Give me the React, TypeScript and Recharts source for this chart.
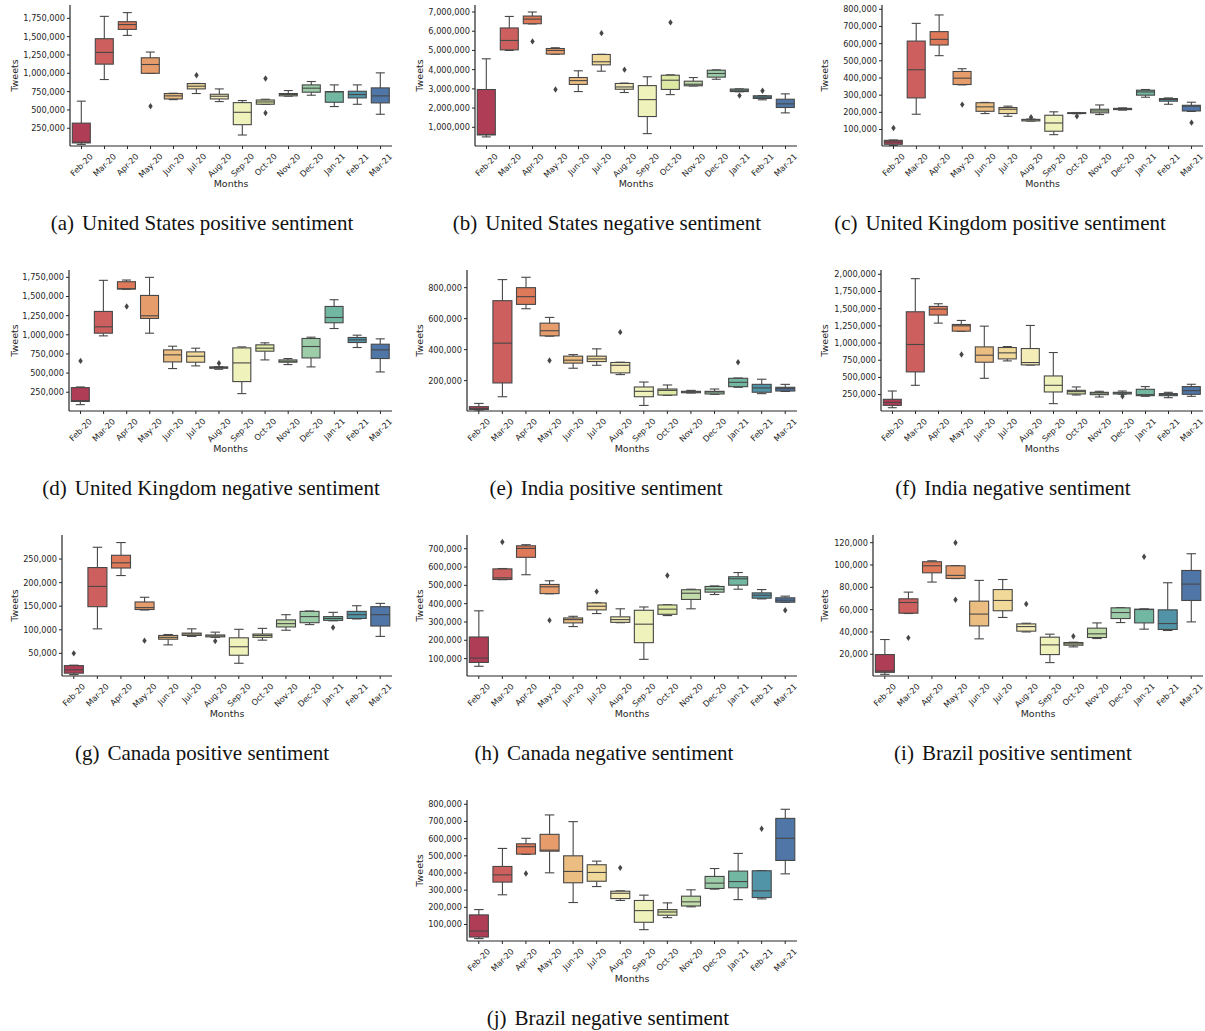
import { ComposedChart, Bar, Line, XAxis, YAxis } from 'recharts';

type Box = [number, number, number, number, number]; // low whisker, q1, median, q3, high whisker

const months = ['Feb-20', 'Mar-20', 'Apr-20', 'May-20', 'Jun-20', 'Jul-20', 'Aug-20', 'Sep-20', 'Oct-20', 'Nov-20', 'Dec-20', 'Jan-21', 'Feb-21', 'Mar-21'];

// seaborn "Spectral" with 14 steps, desaturated to 0.75 the way boxplot does it
const palette = ['#b03d56', '#cd605e', '#de7959', '#e69c6b', '#ebbd81', '#f0d999', '#f5edb8', '#eff3bb', '#dee9a4', '#c0dca9', '#9ccca8', '#72b7a1', '#5193a7', '#4f76a6'];

const ticks250k = [250000, 500000, 750000, 1000000, 1250000, 1500000, 1750000];
const ticks250kTo2m = [250000, 500000, 750000, 1000000, 1250000, 1500000, 1750000, 2000000];
const ticks1m = [1000000, 2000000, 3000000, 4000000, 5000000, 6000000, 7000000];
const ticks100k = [100000, 200000, 300000, 400000, 500000, 600000, 700000, 800000];
const ticks100kTo700k = [100000, 200000, 300000, 400000, 500000, 600000, 700000];
const ticks200k = [200000, 400000, 600000, 800000];
const ticks50k = [50000, 100000, 150000, 200000, 250000];
const ticks20k = [20000, 40000, 60000, 80000, 100000, 120000];

const usPositive: Box[] = [
  [30000, 50000, 60000, 320000, 620000],
  [915000, 1125000, 1285000, 1472000, 1777000],
  [1517000, 1599000, 1665000, 1704000, 1828000],
  [998000, 1000000, 1120000, 1212000, 1290000],
  [641000, 650000, 692000, 724000, 728000],
  [724000, 787000, 824000, 860000, 862000],
  [614000, 650000, 687000, 714000, 787000],
  [158000, 299000, 468000, 600000, 628000],
  [575000, 578000, 609000, 636000, 646000],
  [688000, 692000, 710000, 724000, 765000],
  [701000, 742000, 797000, 842000, 888000],
  [546000, 605000, 746000, 751000, 842000],
  [577000, 664000, 710000, 755000, 842000],
  [441000, 596000, 692000, 801000, 1006000],
];
const usPositiveOutliers: number[][] = [[], [], [], [550000], [], [974000], [], [], [929000, 459000], [], [], [], [], []];

const usNegative: Box[] = [
  [500000, 600000, 630000, 2965000, 4565000],
  [5000000, 5030000, 5520000, 6170000, 6770000],
  [6380000, 6390000, 6630000, 6790000, 7000000],
  [4800000, 4810000, 5000000, 5100000, 5140000],
  [2860000, 3230000, 3430000, 3590000, 3940000],
  [3920000, 4250000, 4410000, 4790000, 4800000],
  [2810000, 2980000, 3100000, 3280000, 3300000],
  [670000, 1560000, 2440000, 3170000, 3630000],
  [2700000, 2970000, 3450000, 3710000, 3730000],
  [3150000, 3160000, 3240000, 3400000, 3590000],
  [3500000, 3610000, 3800000, 3970000, 3990000],
  [2850000, 2860000, 2930000, 2990000, 3000000],
  [2430000, 2500000, 2570000, 2640000, 2650000],
  [1750000, 2030000, 2220000, 2460000, 2740000],
];
const usNegativeOutliers: number[][] = [[], [], [5470000], [2970000], [], [5900000], [4000000], [], [6460000], [], [], [2650000], [2900000], []];

const ukPositive: Box[] = [
  [6000, 14000, 27000, 37000, 39000],
  [189000, 284000, 448000, 615000, 718000],
  [530000, 592000, 625000, 670000, 767000],
  [360000, 362000, 399000, 438000, 454000],
  [193000, 206000, 232000, 256000, 258000],
  [177000, 193000, 218000, 228000, 236000],
  [149000, 150000, 156000, 159000, 161000],
  [70000, 90000, 138000, 183000, 203000],
  [192000, 193000, 195000, 198000, 199000],
  [187000, 197000, 208000, 218000, 243000],
  [213000, 216000, 220000, 223000, 226000],
  [288000, 300000, 319000, 329000, 333000],
  [247000, 265000, 275000, 280000, 284000],
  [205000, 208000, 236000, 241000, 259000],
];
const ukPositiveOutliers: number[][] = [[109000], [], [], [245000], [], [], [171000], [], [177000], [], [], [], [], [140000]];

const ukNegative: Box[] = [
  [88000, 130000, 140000, 310000, 319000],
  [986000, 1021000, 1104000, 1305000, 1711000],
  [1595000, 1597000, 1602000, 1693000, 1715000],
  [1021000, 1213000, 1248000, 1514000, 1750000],
  [559000, 646000, 738000, 803000, 851000],
  [594000, 642000, 720000, 777000, 825000],
  [550000, 563000, 572000, 581000, 585000],
  [232000, 389000, 633000, 829000, 842000],
  [672000, 786000, 825000, 869000, 895000],
  [611000, 642000, 655000, 672000, 690000],
  [581000, 698000, 847000, 952000, 969000],
  [1082000, 1157000, 1226000, 1370000, 1458000],
  [834000, 899000, 934000, 965000, 995000],
  [515000, 690000, 803000, 877000, 947000],
];
const ukNegativeOutliers: number[][] = [[659000], [], [1370000], [], [], [], [629000], [], [], [], [], [], [], []];

const indiaPositive: Box[] = [
  [4000, 14000, 19000, 32000, 53000],
  [96000, 185000, 442000, 716000, 852000],
  [664000, 692000, 742000, 800000, 867000],
  [487000, 489000, 522000, 571000, 608000],
  [280000, 313000, 332000, 358000, 368000],
  [299000, 323000, 340000, 358000, 405000],
  [239000, 250000, 299000, 317000, 319000],
  [40000, 96000, 131000, 159000, 191000],
  [105000, 107000, 137000, 146000, 172000],
  [120000, 122000, 127000, 131000, 137000],
  [112000, 114000, 127000, 131000, 146000],
  [157000, 161000, 189000, 215000, 217000],
  [116000, 125000, 153000, 176000, 209000],
  [130000, 133000, 148000, 157000, 176000],
];
const indiaPositiveOutliers: number[][] = [[], [], [], [330000], [], [], [513000], [], [], [], [], [319000], [], []];

const indiaNegative: Box[] = [
  [59000, 93000, 137000, 181000, 302000],
  [385000, 580000, 979000, 1455000, 1937000],
  [1290000, 1407000, 1494000, 1533000, 1572000],
  [1170000, 1173000, 1251000, 1270000, 1329000],
  [487000, 721000, 823000, 944000, 1246000],
  [740000, 769000, 857000, 935000, 949000],
  [680000, 682000, 716000, 920000, 1256000],
  [118000, 288000, 385000, 521000, 862000],
  [244000, 259000, 293000, 312000, 361000],
  [215000, 249000, 273000, 283000, 298000],
  [255000, 259000, 273000, 283000, 302000],
  [225000, 234000, 249000, 327000, 366000],
  [205000, 234000, 254000, 264000, 283000],
  [225000, 254000, 307000, 366000, 400000],
];
const indiaNegativeOutliers: number[][] = [[], [], [], [833000], [], [], [], [], [], [], [225000], [], [], []];

const canadaPositive: Box[] = [
  [5000, 8000, 15000, 24000, 25000],
  [102000, 149000, 192000, 232000, 275000],
  [215000, 231000, 242000, 258000, 285000],
  [142000, 143000, 147000, 159000, 169000],
  [68000, 80000, 84000, 88000, 90000],
  [86000, 88000, 91000, 93000, 102000],
  [84000, 85000, 87000, 89000, 95000],
  [29000, 46000, 64000, 83000, 101000],
  [78000, 84000, 88000, 91000, 103000],
  [99000, 106000, 113000, 121000, 132000],
  [111000, 115000, 128000, 139000, 140000],
  [119000, 120000, 124000, 128000, 137000],
  [123000, 124000, 132000, 139000, 151000],
  [86000, 108000, 132000, 149000, 156000],
];
const canadaPositiveOutliers: number[][] = [[50000], [], [], [77000], [], [], [76000], [], [], [], [], [105000], [], []];

const canadaNegative: Box[] = [
  [58000, 79000, 103000, 218000, 361000],
  [531000, 532000, 541000, 590000, 592000],
  [558000, 653000, 702000, 716000, 722000],
  [454000, 455000, 492000, 505000, 525000],
  [275000, 295000, 313000, 322000, 331000],
  [346000, 366000, 386000, 404000, 405000],
  [296000, 298000, 313000, 328000, 372000],
  [96000, 187000, 288000, 364000, 382000],
  [335000, 342000, 370000, 393000, 394000],
  [372000, 423000, 457000, 476000, 479000],
  [450000, 463000, 479000, 494000, 497000],
  [479000, 501000, 536000, 547000, 570000],
  [426000, 430000, 446000, 459000, 477000],
  [407000, 408000, 419000, 432000, 441000],
];
const canadaNegativeOutliers: number[][] = [[], [737000], [], [309000], [], [466000], [], [], [554000], [], [], [], [], [364000]];

const brazilPositive: Box[] = [
  [2000, 3800, 5000, 19700, 33200],
  [56500, 56800, 66400, 69700, 75700],
  [84700, 93000, 99300, 102900, 103800],
  [87800, 88000, 90700, 99300, 99500],
  [33800, 45400, 56000, 67600, 86200],
  [53000, 59000, 68200, 78000, 87000],
  [40000, 40700, 44800, 47200, 47800],
  [12500, 19700, 28400, 35300, 38000],
  [26600, 28100, 29300, 30500, 30800],
  [34100, 35000, 38300, 43400, 48100],
  [48400, 52000, 57400, 61600, 61800],
  [42500, 48100, 60100, 60400, 60700],
  [41300, 42200, 47500, 59800, 84100],
  [49000, 68200, 82900, 95100, 110100],
];
const brazilPositiveOutliers: number[][] = [[], [34700], [], [120000, 68800], [], [], [65000], [], [36200], [], [], [107400], [], []];

const brazilNegative: Box[] = [
  [18000, 27000, 62000, 156000, 187000],
  [273000, 347000, 389000, 438000, 543000],
  [508000, 510000, 553000, 570000, 602000],
  [401000, 527000, 533000, 625000, 738000],
  [228000, 343000, 409000, 500000, 699000],
  [321000, 352000, 403000, 448000, 469000],
  [240000, 251000, 282000, 294000, 296000],
  [70000, 113000, 181000, 240000, 271000],
  [140000, 154000, 173000, 187000, 226000],
  [203000, 208000, 232000, 265000, 302000],
  [306000, 310000, 341000, 380000, 426000],
  [245000, 314000, 350000, 411000, 514000],
  [249000, 257000, 296000, 413000, 414000],
  [395000, 473000, 602000, 718000, 771000],
];
const brazilNegativeOutliers: number[][] = [[], [], [397000], [], [], [], [430000], [], [], [], [], [], [658000], []];

const EDGE = '#474747';
const INK = '#262626';
const TICK_FS = 8.2;

type PanelSpec = {
  tag: string;
  title: string;
  boxes: Box[];
  outliers: number[][];
  domain: [number, number];
  ticks: number[];
  x0: number;
  y0: number;
  axisX: number;
  right: number;
  capX: number;
};

const panels: PanelSpec[] = [
  { tag: '(a)', title: 'United States positive sentiment', boxes: usPositive, outliers: usPositiveOutliers, domain: [8000, 1932000], ticks: ticks250k, x0: 0, y0: 0, axisX: 70, right: 392, capX: 202 },
  { tag: '(b)', title: 'United States negative sentiment', boxes: usNegative, outliers: usNegativeOutliers, domain: [26000, 7365000], ticks: ticks1m, x0: 405, y0: 0, axisX: 475, right: 797, capX: 607 },
  { tag: '(c)', title: 'United Kingdom positive sentiment', boxes: ukPositive, outliers: ukPositiveOutliers, domain: [4000, 825000], ticks: ticks100k, x0: 810, y0: 0, axisX: 882, right: 1203, capX: 1000 },
  { tag: '(d)', title: 'United Kingdom negative sentiment', boxes: ukNegative, outliers: ukNegativeOutliers, domain: [5000, 1846000], ticks: ticks250k, x0: 0, y0: 265, axisX: 69, right: 392, capX: 211 },
  { tag: '(e)', title: 'India positive sentiment', boxes: indiaPositive, outliers: indiaPositiveOutliers, domain: [4000, 914000], ticks: ticks200k, x0: 405, y0: 265, axisX: 467, right: 797, capX: 606 },
  { tag: '(f)', title: 'India negative sentiment', boxes: indiaNegative, outliers: indiaNegativeOutliers, domain: [11000, 2063000], ticks: ticks250kTo2m, x0: 810, y0: 265, axisX: 881, right: 1203, capX: 1013 },
  { tag: '(g)', title: 'Canada positive sentiment', boxes: canadaPositive, outliers: canadaPositiveOutliers, domain: [2000, 301000], ticks: ticks50k, x0: 0, y0: 530, axisX: 62, right: 392, capX: 202 },
  { tag: '(h)', title: 'Canada negative sentiment', boxes: canadaNegative, outliers: canadaNegativeOutliers, domain: [5000, 775000], ticks: ticks100kTo700k, x0: 405, y0: 530, axisX: 467, right: 797, capX: 604 },
  { tag: '(i)', title: 'Brazil positive sentiment', boxes: brazilPositive, outliers: brazilPositiveOutliers, domain: [500, 126900], ticks: ticks20k, x0: 810, y0: 530, axisX: 873, right: 1203, capX: 1013 },
  { tag: '(j)', title: 'Brazil negative sentiment', boxes: brazilNegative, outliers: brazilNegativeOutliers, domain: [4000, 825000], ticks: ticks100k, x0: 405, y0: 795, axisX: 467, right: 797, capX: 608 },
];

// rough DejaVu Sans advance widths (em) for the month labels
const charW: Record<string, number> = {
  F: 0.575, e: 0.615, b: 0.635, '-': 0.361, M: 0.863, a: 0.613, r: 0.411, A: 0.684, p: 0.635, y: 0.592,
  J: 0.295, u: 0.634, n: 0.634, l: 0.278, g: 0.635, S: 0.635, O: 0.787, c: 0.55, t: 0.392, N: 0.748,
  o: 0.612, v: 0.592, D: 0.77,
};
const labelWidth = (s: string, fs: number) => [...s].reduce((w, ch) => w + (charW[ch] ?? 0.636), 0) * fs;

function MonthTick(props: any) {
  const { x, y, payload } = props;
  const w = labelWidth(String(payload.value), TICK_FS);
  const cy = y + ((w + TICK_FS * 0.95) * Math.SQRT1_2) / 2;
  return (
    <text x={x} y={cy} textAnchor="middle" dominantBaseline="central" fontSize={TICK_FS} fill={INK}
      fontFamily="DejaVu Sans" transform={`rotate(-45 ${x} ${cy})`}>
      {payload.value}
    </text>
  );
}

function BoxShape(props: any) {
  const { x, y, width, height, index, rows } = props;
  const row = rows[index];
  if (!row || !(height > 0)) return <g />;
  const [low, q1, med, q3, high] = row.box as Box;
  const py = (v: number) => y + ((high - v) / (high - low)) * height;
  const cx = x + width / 2;
  const cap = width / 4;
  const sw = 1.1;
  return (
    <g>
      <line x1={cx} x2={cx} y1={py(high)} y2={py(q3)} stroke={EDGE} strokeWidth={sw} />
      <line x1={cx} x2={cx} y1={py(q1)} y2={py(low)} stroke={EDGE} strokeWidth={sw} />
      <line x1={cx - cap} x2={cx + cap} y1={py(high)} y2={py(high)} stroke={EDGE} strokeWidth={sw} />
      <line x1={cx - cap} x2={cx + cap} y1={py(low)} y2={py(low)} stroke={EDGE} strokeWidth={sw} />
      <rect x={x} y={py(q3)} width={width} height={Math.max(py(q1) - py(q3), 0.6)} fill={row.color} stroke={EDGE} strokeWidth={sw} />
      <line x1={x} x2={x + width} y1={py(med)} y2={py(med)} stroke={EDGE} strokeWidth={sw} />
    </g>
  );
}

const renderFlier = (dp: any) => {
  const { cx, cy, index } = dp;
  if (typeof cy !== 'number' || Number.isNaN(cy)) return <g key={`n${index}`} />;
  return <path key={`f${index}`} d={`M${cx},${cy - 3.2}L${cx + 2.2},${cy}L${cx},${cy + 3.2}L${cx - 2.2},${cy}Z`} fill={EDGE} />;
};

function Panel({ p }: { p: PanelSpec }) {
  const rows = months.map((m, i) => ({
    month: m,
    range: [p.boxes[i][0], p.boxes[i][4]],
    box: p.boxes[i],
    color: palette[i],
    out1: p.outliers[i][0] ?? null,
    out2: p.outliers[i][1] ?? null,
  }));
  const w = 400;
  return (
    <div style={{ position: 'absolute', left: p.x0, top: p.y0 }}>
      <ComposedChart width={w} height={200} data={rows} barCategoryGap="10%"
        margin={{ top: 5, right: w - (p.right - p.x0), bottom: 0, left: 0 }}>
        <XAxis dataKey="month" interval={0} height={54} tickSize={3} tickMargin={3}
          axisLine={{ stroke: INK, strokeWidth: 1.2 }} tickLine={{ stroke: INK }}
          tick={(tp: any) => <MonthTick {...tp} />} />
        <YAxis type="number" domain={p.domain} allowDataOverflow ticks={p.ticks} interval={0}
          width={p.axisX - p.x0} tickSize={3} tickMargin={2}
          tickFormatter={(v: number) => v.toLocaleString('en-US')}
          tick={{ fontSize: TICK_FS, fill: INK, fontFamily: 'DejaVu Sans' }}
          axisLine={{ stroke: INK, strokeWidth: 1.2 }} tickLine={{ stroke: INK }} />
        <Bar dataKey="range" isAnimationActive={false} shape={(sp: any) => <BoxShape {...sp} rows={rows} />} />
        <Line dataKey="out1" stroke="none" dot={renderFlier} activeDot={false} isAnimationActive={false} />
        <Line dataKey="out2" stroke="none" dot={renderFlier} activeDot={false} isAnimationActive={false} />
      </ComposedChart>
    </div>
  );
}

export default function App() {
  return (
    <div style={{ position: 'absolute', left: 0, top: 0, width: 1205, height: 1031, background: '#fff' }}>
      {panels.map((p) => (
        <Panel key={p.tag} p={p} />
      ))}
      <svg width={1205} height={1031} style={{ position: 'absolute', left: 0, top: 0, pointerEvents: 'none' }}>
        {panels.map((p) => {
          const ty = p.y0 + 75.5;
          const tx = p.x0 + 17.5;
          return (
            <g key={p.tag}>
              <text x={tx} y={ty} textAnchor="middle" fontSize={9.5} fill={INK} fontFamily="DejaVu Sans"
                transform={`rotate(-90 ${tx} ${ty})`}>Tweets</text>
              <text x={(p.axisX + p.right) / 2} y={p.y0 + 187} textAnchor="middle" fontSize={9.5} fill={INK}
                fontFamily="DejaVu Sans">Months</text>
              <text x={p.capX} y={p.y0 + 230} textAnchor="middle" fontSize={21} fill="#111"
                fontFamily="Liberation Serif">
                {p.tag}
                <tspan dx={8}>{p.title}</tspan>
              </text>
            </g>
          );
        })}
      </svg>
    </div>
  );
}
